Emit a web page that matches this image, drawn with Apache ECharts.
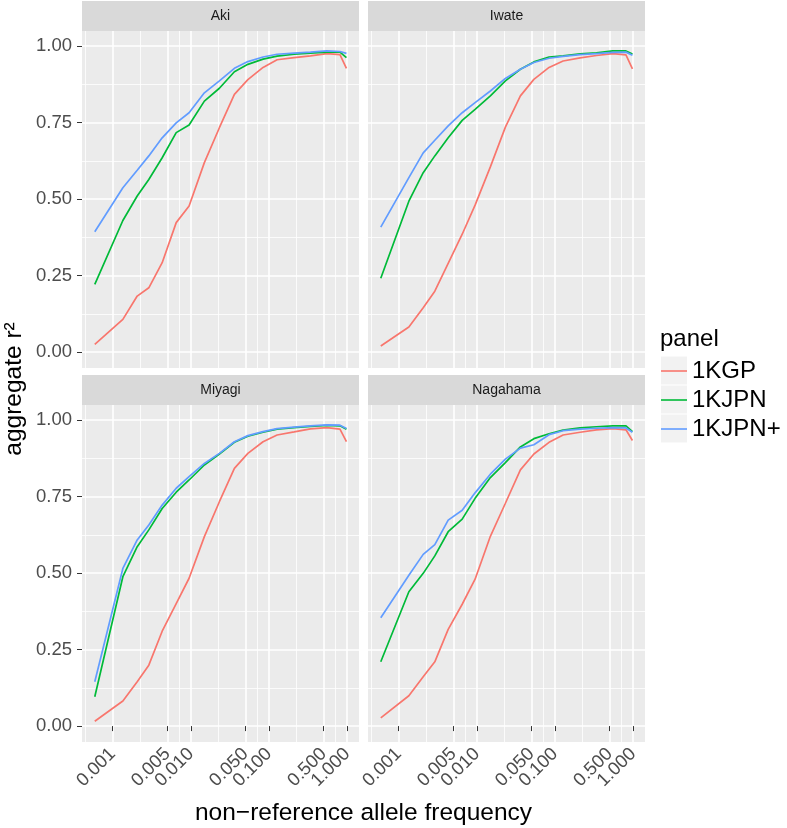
<!DOCTYPE html>
<html><head><meta charset="utf-8">
<script src="https://cdn.jsdelivr.net/npm/echarts@6/dist/echarts.min.js"></script>
<style>html,body{margin:0;padding:0;background:#fff}#c{width:787px;height:828px}</style>
</head><body><div id="c"></div>
<script>
// ---- data ----
const freq = [0.00059, 0.00135, 0.00206, 0.0029, 0.0043, 0.0065, 0.0095, 0.0149, 0.0232, 0.0361, 0.0537, 0.084, 0.127, 0.21, 0.34, 0.55, 0.81, 0.98];
const panels = ['Aki', 'Iwate', 'Miyagi', 'Nagahama'];
const seriesNames = ['1KGP', '1KJPN', '1KJPN+'];

const aki_1KGP   = [0.025, 0.107, 0.183, 0.210, 0.292, 0.423, 0.477, 0.619, 0.733, 0.842, 0.890, 0.930, 0.955, 0.962, 0.968, 0.975, 0.972, 0.927];
const aki_1KJPN  = [0.221, 0.430, 0.510, 0.564, 0.635, 0.717, 0.742, 0.820, 0.862, 0.916, 0.940, 0.957, 0.967, 0.973, 0.977, 0.980, 0.980, 0.962];
const aki_1KJPNp = [0.393, 0.537, 0.594, 0.641, 0.700, 0.749, 0.782, 0.847, 0.886, 0.927, 0.949, 0.964, 0.973, 0.977, 0.980, 0.984, 0.982, 0.976];

const iwate_1KGP   = [0.020, 0.082, 0.145, 0.199, 0.290, 0.385, 0.480, 0.605, 0.735, 0.837, 0.891, 0.930, 0.951, 0.961, 0.969, 0.975, 0.971, 0.925];
const iwate_1KJPN  = [0.241, 0.493, 0.586, 0.641, 0.700, 0.757, 0.793, 0.837, 0.886, 0.924, 0.948, 0.964, 0.968, 0.974, 0.978, 0.984, 0.984, 0.974];
const iwate_1KJPNp = [0.408, 0.570, 0.651, 0.692, 0.739, 0.782, 0.815, 0.853, 0.894, 0.924, 0.946, 0.960, 0.966, 0.972, 0.975, 0.979, 0.980, 0.970];

const miyagi_1KGP   = [0.016, 0.082, 0.145, 0.199, 0.310, 0.400, 0.483, 0.619, 0.733, 0.842, 0.891, 0.929, 0.951, 0.961, 0.971, 0.975, 0.970, 0.929];
const miyagi_1KJPN  = [0.096, 0.488, 0.586, 0.641, 0.711, 0.764, 0.804, 0.853, 0.889, 0.927, 0.947, 0.960, 0.970, 0.975, 0.979, 0.982, 0.981, 0.970];
const miyagi_1KJPNp = [0.145, 0.515, 0.608, 0.657, 0.722, 0.777, 0.815, 0.858, 0.891, 0.929, 0.949, 0.962, 0.972, 0.977, 0.981, 0.984, 0.983, 0.972];

const nagahama_1KGP   = [0.027, 0.099, 0.161, 0.210, 0.316, 0.398, 0.480, 0.620, 0.728, 0.837, 0.889, 0.927, 0.951, 0.960, 0.968, 0.972, 0.968, 0.933];
const nagahama_1KJPN  = [0.210, 0.439, 0.499, 0.556, 0.635, 0.676, 0.744, 0.812, 0.861, 0.912, 0.939, 0.955, 0.967, 0.974, 0.978, 0.981, 0.981, 0.962];
const nagahama_1KJPNp = [0.354, 0.493, 0.561, 0.593, 0.673, 0.705, 0.762, 0.823, 0.872, 0.908, 0.919, 0.952, 0.965, 0.970, 0.973, 0.975, 0.974, 0.960];

const xBreaks = [0.001, 0.005, 0.01, 0.05, 0.1, 0.5, 1];
const xMinorBreaks = [0.000447, 0.002236, 0.007071, 0.02236, 0.07071, 0.2236, 0.7071, 1.414];
const yBreaks = [0, 0.25, 0.5, 0.75, 1];
const yMinorBreaks = [0.125, 0.375, 0.625, 0.875];

// ---- build ----
const panelData = [
  [aki_1KGP, aki_1KJPN, aki_1KJPNp],
  [iwate_1KGP, iwate_1KJPN, iwate_1KJPNp],
  [miyagi_1KGP, miyagi_1KJPN, miyagi_1KJPNp],
  [nagahama_1KGP, nagahama_1KJPN, nagahama_1KJPNp]
];
const colors = ['#F8766D', '#00BA38', '#619CFF'];
const FONT = "'Liberation Sans', Arial, Helvetica, sans-serif";
const XMIN = 0.000405, XMAX = 1.419, YMIN = -0.052, YMAX = 1.049;
const gridPos = [[82, 31], [368, 31], [82, 405], [368, 405]];
const GW = 277, GH = 337;
// log(1) = 0 can be dropped by the custom tick filter; nudge it imperceptibly
const xTickVals = xBreaks.map(v => v === 1 ? 1.0000001 : v);
// an empty trailing label keeps the min/max-label overlap check from hiding real labels
const xLabelVals = xTickVals.concat([1.4]);

const grids = [], xAxes = [], yAxes = [], series = [], graphics = [];
panels.forEach((name, i) => {
  const [l, t] = gridPos[i];
  const bottomRow = i >= 2, leftCol = i % 2 === 0;
  grids.push({left: l, top: t, width: GW, height: GH, show: true, backgroundColor: '#EBEBEB', borderWidth: 0, containLabel: false});
  xAxes.push({
    type: 'log', logBase: 10, gridIndex: i, min: XMIN, max: XMAX, position: 'bottom',
    axisLine: {show: false},
    axisTick: {show: bottomRow, customValues: xTickVals, length: 5, lineStyle: {color: '#333333', width: 1}},
    axisLabel: {show: bottomRow, customValues: xLabelVals, rotate: 45, margin: 9, fontSize: 18.5, color: '#4D4D4D', fontFamily: FONT,
      hideOverlap: false,
      formatter: v => (v > 1.2 ? '' : Number(v).toFixed(3))},
    splitLine: {show: true, lineStyle: {color: '#FFFFFF', width: 1.6}},
    minorTick: {show: false}, minorSplitLine: {show: false}
  });
  xAxes.push({
    type: 'log', logBase: 10, gridIndex: i, min: XMIN, max: XMAX, position: 'top',
    axisLine: {show: false},
    axisTick: {show: false, customValues: xMinorBreaks},
    axisLabel: {show: false, customValues: xMinorBreaks},
    splitLine: {show: true, lineStyle: {color: '#FFFFFF', width: 0.8}}
  });
  yAxes.push({
    type: 'value', gridIndex: i, min: YMIN, max: YMAX, position: 'left',
    axisLine: {show: false},
    axisTick: {show: leftCol, customValues: yBreaks, length: 5, lineStyle: {color: '#333333', width: 1}},
    axisLabel: {show: leftCol, customValues: yBreaks, margin: 10, fontSize: 18.5, color: '#4D4D4D', fontFamily: FONT,
      formatter: v => Number(v).toFixed(2)},
    splitLine: {show: true, lineStyle: {color: '#FFFFFF', width: 1.6}}
  });
  yAxes.push({
    type: 'value', gridIndex: i, min: YMIN, max: YMAX, position: 'right',
    axisLine: {show: false},
    axisTick: {show: false, customValues: yMinorBreaks},
    axisLabel: {show: false, customValues: yMinorBreaks},
    splitLine: {show: true, lineStyle: {color: '#FFFFFF', width: 0.8}}
  });
  seriesNames.forEach((sn, k) => {
    series.push({
      type: 'line', name: sn, xAxisIndex: 2 * i, yAxisIndex: 2 * i,
      data: freq.map((f, j) => [f, panelData[i][k][j]]),
      symbol: 'none', showSymbol: false, smooth: false,
      lineStyle: {color: colors[k], width: 1.7}, itemStyle: {color: colors[k]},
      z: 2 + k, silent: true
    });
  });
  // strip
  graphics.push({type: 'rect', shape: {x: l, y: t - 30, width: GW, height: 30}, style: {fill: '#D9D9D9'}, z: 0, silent: true});
  graphics.push({type: 'text', x: l + GW / 2, y: t - 15, style: {text: name, font: '14px ' + FONT, fill: '#1A1A1A', textAlign: 'center', textVerticalAlign: 'middle'}, z: 1, silent: true});
});

// legend key backgrounds
for (let k = 0; k < 3; k++) {
  graphics.push({type: 'rect', shape: {x: 661, y: 356.5 + 29 * k, width: 26, height: 28}, style: {fill: '#F2F2F2'}, z: 0, silent: true});
}
graphics.push({type: 'text', x: 660, y: 339, style: {text: 'panel', font: '24px ' + FONT, fill: '#000000', textAlign: 'left', textVerticalAlign: 'middle'}, silent: true});
graphics.push({type: 'text', x: 363.5, y: 813, style: {text: 'non\u2212reference allele frequency', font: '24.5px ' + FONT, fill: '#000000', textAlign: 'center', textVerticalAlign: 'middle'}, silent: true});
graphics.push({type: 'text', x: 14, y: 389, rotation: Math.PI / 2, style: {text: 'aggregate r\u00B2', font: '24.5px ' + FONT, fill: '#000000', textAlign: 'center', textVerticalAlign: 'middle'}, silent: true});

const chart = echarts.init(document.getElementById('c'), null, {renderer: 'canvas'});
chart.setOption({
  backgroundColor: '#FFFFFF',
  animation: false,
  grid: grids, xAxis: xAxes, yAxis: yAxes, series: series,
  legend: {
    data: seriesNames, orient: 'vertical', left: 661, top: 356.5, padding: 0,
    icon: 'rect', itemWidth: 26, itemHeight: 1.6, itemGap: 0,
    textStyle: {fontSize: 24, fontFamily: FONT, color: '#000000', lineHeight: 29},
    selectedMode: false, z: 5
  },
  graphic: graphics
});
</script></body></html>
